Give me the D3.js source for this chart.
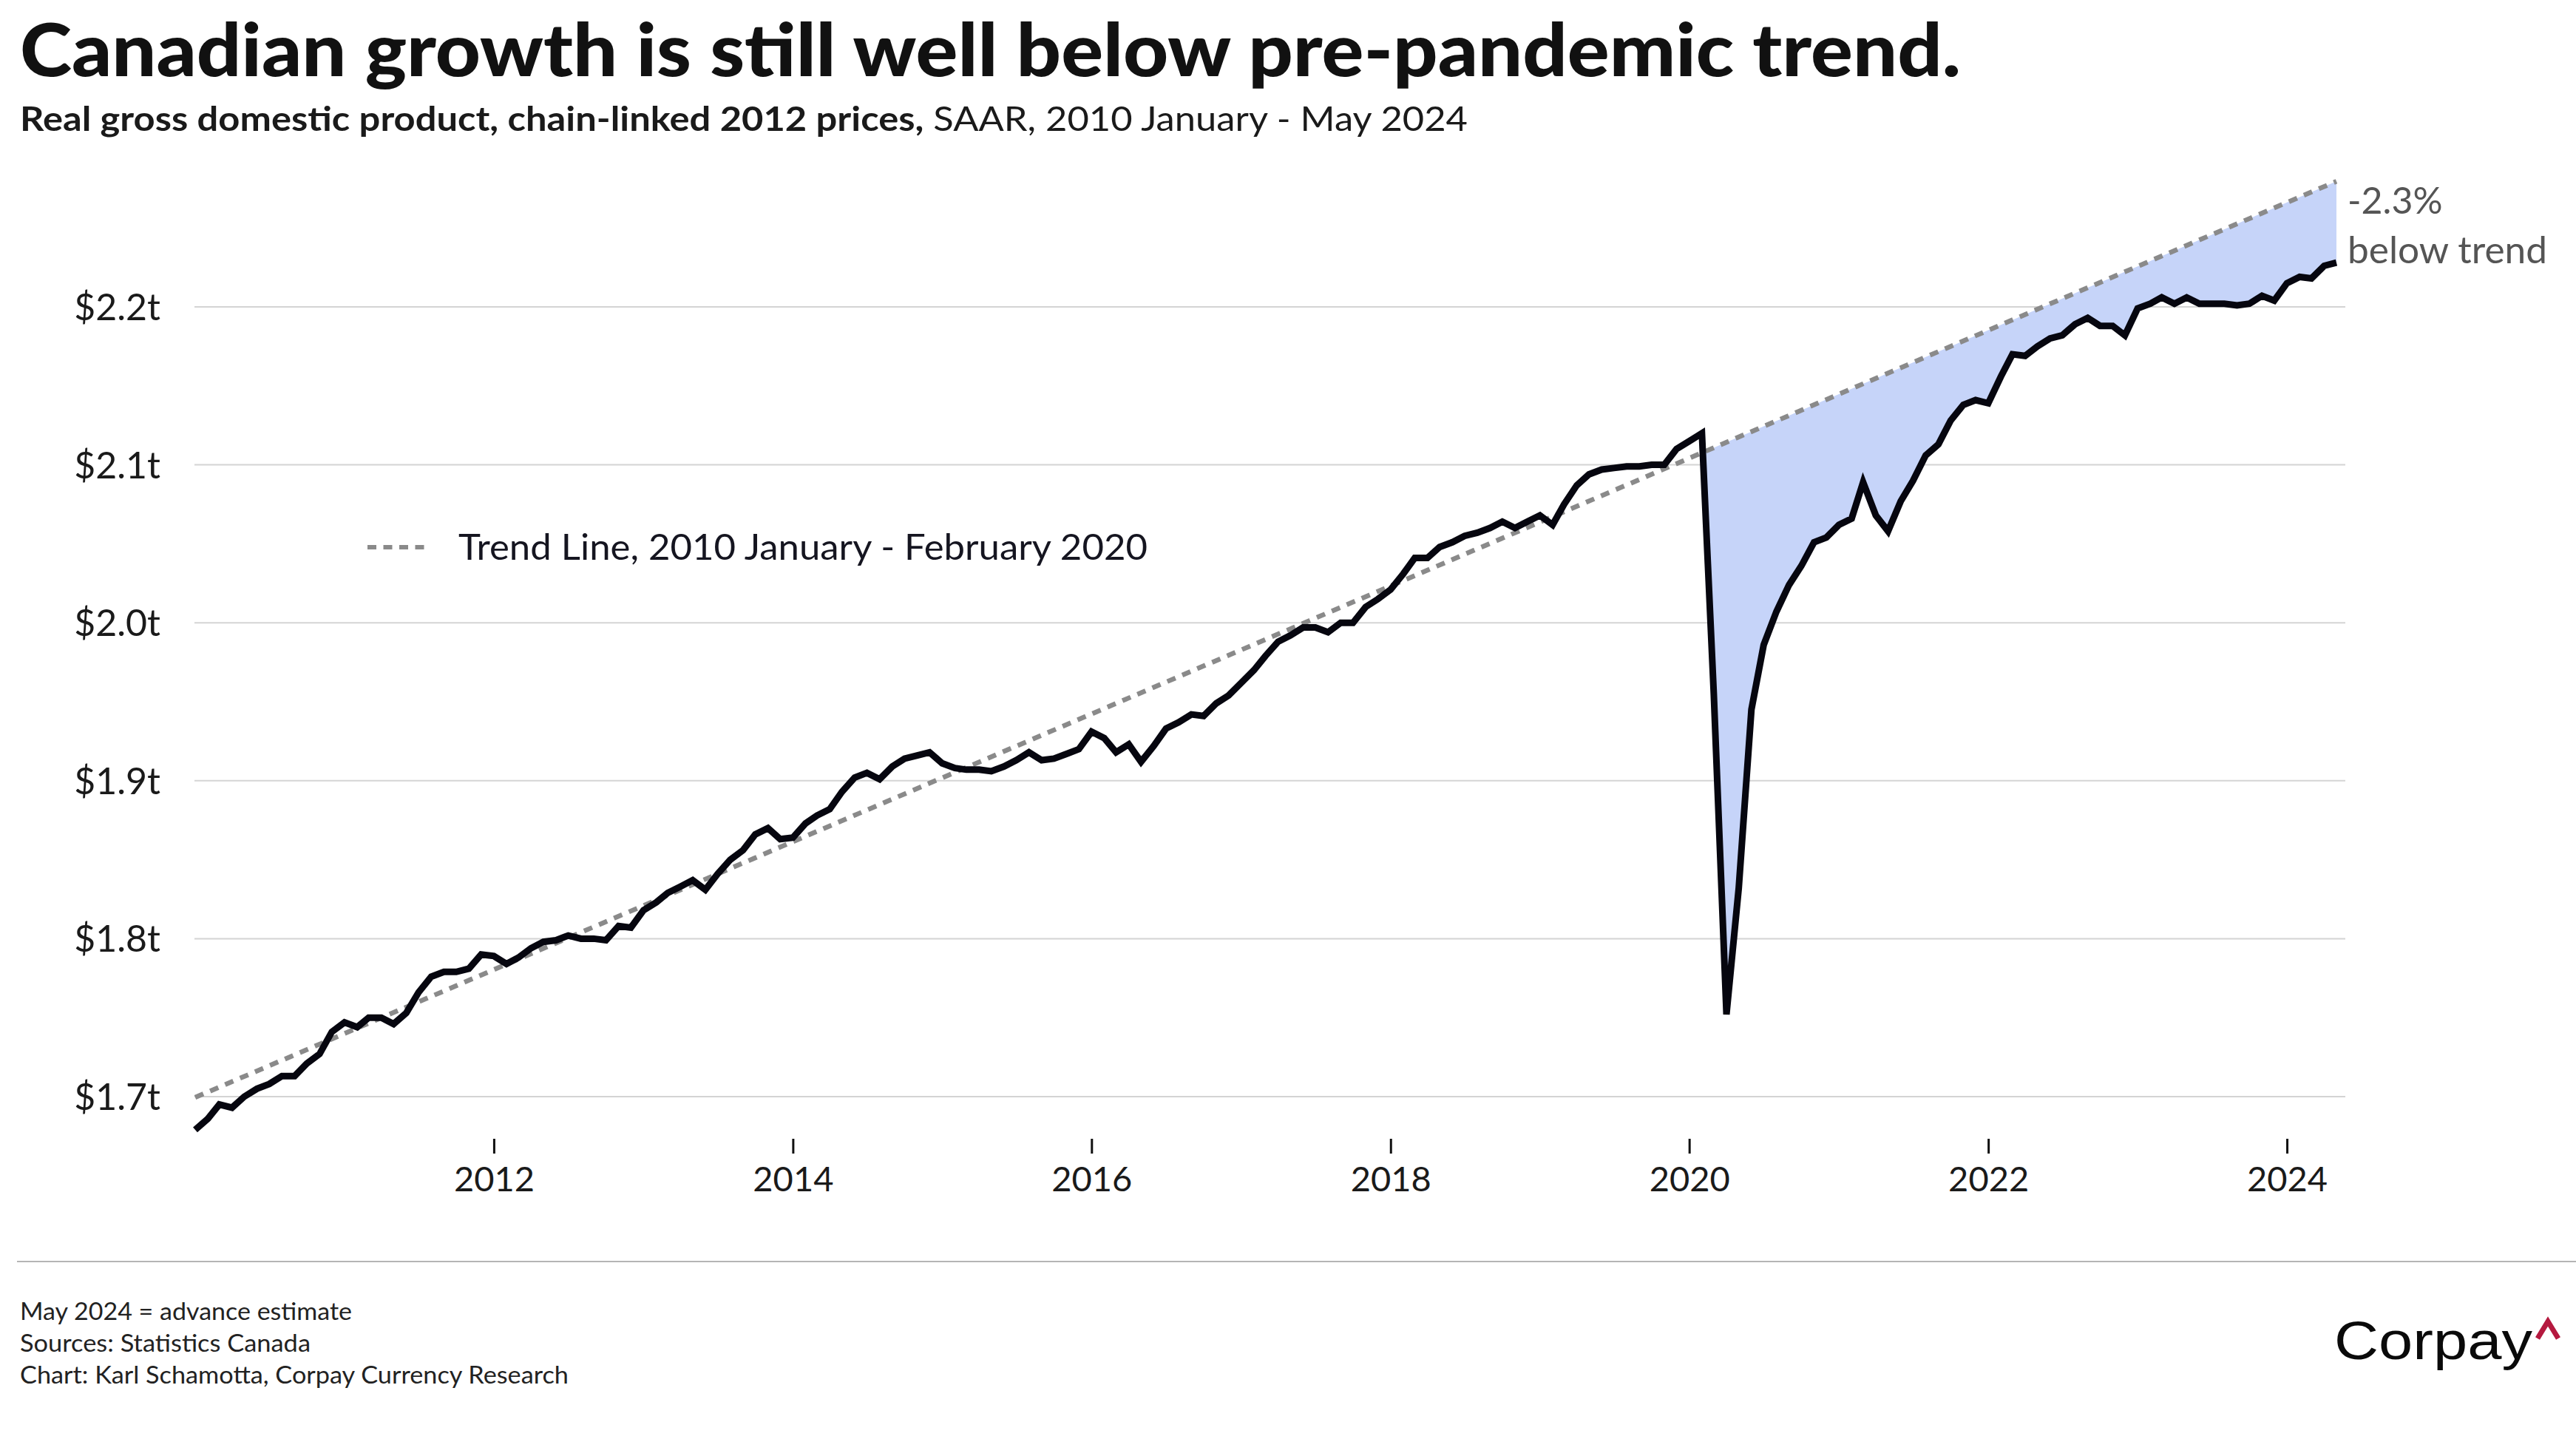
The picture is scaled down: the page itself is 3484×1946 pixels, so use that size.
<!DOCTYPE html>
<html><head><meta charset="utf-8">
<script src="https://cdn.jsdelivr.net/npm/d3@7"></script>
<style>html,body{margin:0;padding:0;background:#fff;overflow:hidden;} svg{display:block;}</style>
</head><body>
<svg id="chart" width="3484" height="1946" viewBox="0 0 3484 1946"></svg>
<script>
// ---------- DATA ----------
const startMonth = "2010-01";           // first observation
const gdpTrillions = [
 1.679,1.686,1.695,1.693,1.700,1.705,1.708,1.713,1.713,1.721,1.727,1.741,
 1.747,1.744,1.750,1.750,1.746,1.753,1.766,1.776,1.779,1.779,1.781,1.790,
 1.789,1.784,1.788,1.794,1.798,1.799,1.802,1.800,1.800,1.799,1.808,1.807,
 1.818,1.823,1.829,1.833,1.837,1.831,1.841,1.850,1.856,1.866,1.870,1.863,
 1.864,1.873,1.878,1.882,1.893,1.902,1.905,1.901,1.909,1.914,1.916,1.918,
 1.911,1.908,1.907,1.907,1.906,1.909,1.913,1.918,1.913,1.914,1.917,1.920,
 1.931,1.927,1.918,1.923,1.912,1.922,1.933,1.937,1.942,1.941,1.949,1.954,
 1.962,1.970,1.979,1.988,1.992,1.997,1.997,1.994,2.000,2.000,2.010,2.015,
 2.021,2.031,2.041,2.041,2.048,2.051,2.055,2.057,2.060,2.064,2.060,2.064,
 2.068,2.062,2.075,2.087,2.094,2.097,2.098,2.099,2.099,2.100,2.100,2.110,
 2.115,2.120,1.955,1.752,1.832,1.945,1.986,2.007,2.024,2.036,2.051,2.054,
 2.062,2.066,2.089,2.068,2.058,2.077,2.090,2.106,2.113,2.128,2.138,2.141,
 2.139,2.156,2.170,2.169,2.175,2.180,2.182,2.189,2.193,2.188,2.188,2.182,
 2.199,2.202,2.206,2.202,2.206,2.202,2.202,2.202,2.201,2.202,2.207,2.204,
 2.215,2.219,2.218,2.226,2.228
];
const trendStartValue = 1.6995;   // trend at Jan 2010
const trendEndValue   = 2.2795;   // trend extended to May 2024
const shadeFrom = "2020-02";      // pre-pandemic peak, start of shaded gap
const yTicks = [1.7, 1.8, 1.9, 2.0, 2.1, 2.2];
const yTickLabels = ["$1.7t","$1.8t","$1.9t","$2.0t","$2.1t","$2.2t"];
const xTickYears = [2012, 2014, 2016, 2018, 2020, 2022, 2024];
const titleText = "Canadian growth is still well below pre-pandemic trend.";
const subtitleBold = "Real gross domestic product, chain-linked 2012 prices,";
const subtitleRegular = " SAAR, 2010 January - May 2024";
const legendLabel = "Trend Line, 2010 January - February 2020";
const gapLabel = ["-2.3%", "below trend"];
const footerLines = ["May 2024 = advance estimate", "Sources: Statistics Canada", "Chart: Karl Schamotta, Corpay Currency Research"];

// ---------- SETUP ----------
const parseMonth = d3.timeParse("%Y-%m");
const t0 = parseMonth(startMonth);
const series = gdpTrillions.map((v, i) => ({ date: d3.timeMonth.offset(t0, i), value: v }));
const tEnd = series[series.length - 1].date;

const svg = d3.select("#chart");
const FONT = "Lato, 'Noto Sans', sans-serif";

const x = d3.scaleTime().domain([t0, tEnd]).range([264, 3160]);
const y = d3.scaleLinear().domain([1.7, 2.2]).range([1483, 415]);
const trendAt = d3.scaleTime().domain([t0, tEnd]).range([trendStartValue, trendEndValue]);

function fitWidth(sel, w) {
  sel.attr("textLength", w).attr("lengthAdjust", "spacingAndGlyphs");
}

// gridlines
svg.append("g").selectAll("line").data(yTicks).join("line")
  .attr("x1", 263).attr("x2", 3172)
  .attr("y1", d => y(d)).attr("y2", d => y(d))
  .attr("stroke", "#d4d4d4").attr("stroke-width", 2);

// y labels
svg.append("g").selectAll("text").data(yTicks).join("text")
  .attr("x", 217).attr("y", d => y(d)).attr("dy", "0.36em")
  .attr("text-anchor", "end").attr("font-family", FONT).attr("font-size", 50)
  .attr("fill", "#1a1a1a").text((d, i) => yTickLabels[i]);

// x axis ticks + labels via d3 axis
const xAxis = d3.axisBottom(x)
  .tickValues(xTickYears.map(yr => new Date(yr, 0, 1)))
  .tickFormat(d3.timeFormat("%Y"))
  .tickSize(20).tickPadding(18);
const gx = svg.append("g").attr("transform", "translate(0,1540)").call(xAxis);
gx.select(".domain").remove();
gx.selectAll(".tick line").attr("stroke", "#111").attr("stroke-width", 3);
gx.selectAll(".tick text").attr("font-family", FONT).attr("font-size", 47).attr("fill", "#1a1a1a");

// shaded gap between trend and actual since Feb 2020
const shadeStart = parseMonth(shadeFrom);
const shadeData = series.filter(d => d.date >= shadeStart);
svg.append("path").datum(shadeData)
  .attr("fill", "#c6d4f9")
  .attr("d", d3.area().x(d => x(d.date)).y0(d => y(trendAt(d.date))).y1(d => y(Math.min(d.value, trendAt(d.date)))));

// trend line
svg.append("path").datum([t0, tEnd])
  .attr("fill", "none").attr("stroke", "#8a8a8a").attr("stroke-width", 6.5)
  .attr("stroke-dasharray", "12 10")
  .attr("d", d3.line().x(d => x(d)).y(d => y(trendAt(d))));

// GDP line
svg.append("path").datum(series)
  .attr("fill", "none").attr("stroke", "#06060f").attr("stroke-width", 9)
  .attr("stroke-linejoin", "miter").attr("stroke-miterlimit", 4)
  .attr("d", d3.line().x(d => x(d.date)).y(d => y(d.value)));

// title
const title = svg.append("text").attr("x", 27).attr("y", 103)
  .attr("font-family", FONT).attr("font-weight", 900).attr("font-size", 99)
  .attr("fill", "#111").text(titleText);
fitWidth(title, 2625);

// subtitle
const sub = svg.append("text").attr("x", 27).attr("y", 177)
  .attr("font-family", FONT).attr("font-size", 46).attr("fill", "#1a1a1a");
sub.append("tspan").attr("font-weight", 700).text(subtitleBold);
sub.append("tspan").attr("font-weight", 400).text(subtitleRegular);
fitWidth(sub, 1958);

// legend
const lg = svg.append("g");
lg.append("line").attr("x1", 497).attr("x2", 575).attr("y1", 740).attr("y2", 740)
  .attr("stroke", "#8a8a8a").attr("stroke-width", 6).attr("stroke-dasharray", "12 9.5");
const lgt = lg.append("text").attr("x", 620).attr("y", 740).attr("dy", "0.36em")
  .attr("font-family", FONT).attr("font-size", 48).attr("fill", "#151520").text(legendLabel);
fitWidth(lgt, 932);

// gap annotation
const ann = svg.append("g").attr("font-family", FONT).attr("font-size", 50).attr("fill", "#555");
ann.append("text").attr("x", 3175).attr("y", 289).text(gapLabel[0]);
fitWidth(ann.append("text").attr("x", 3175).attr("y", 356).text(gapLabel[1]), 270);

// footer separator
svg.append("line").attr("x1", 23).attr("x2", 3484).attr("y1", 1706).attr("y2", 1706)
  .attr("stroke", "#b5b5b5").attr("stroke-width", 2);

// footer notes
const footerWidths = [449, 393, 742];
svg.append("g").selectAll("text").data(footerLines).join("text")
  .attr("x", 27).attr("y", (d, i) => 1785 + i * 43)
  .attr("font-family", FONT).attr("font-size", 33).attr("fill", "#222")
  .attr("textLength", (d, i) => footerWidths[i]).attr("lengthAdjust", "spacingAndGlyphs")
  .text(d => d);

// logo
const logo = svg.append("text").attr("x", 3157).attr("y", 1838)
  .attr("font-family", "'Liberation Sans', Arial, sans-serif").attr("font-size", 72)
  .attr("fill", "#0a0a0a").text("Corpay");
fitWidth(logo, 268);
svg.append("path").attr("d", "M3432,1810 L3446,1787 L3460,1810")
  .attr("fill", "none").attr("stroke", "#b5193f").attr("stroke-width", 7);
</script>
</body></html>
